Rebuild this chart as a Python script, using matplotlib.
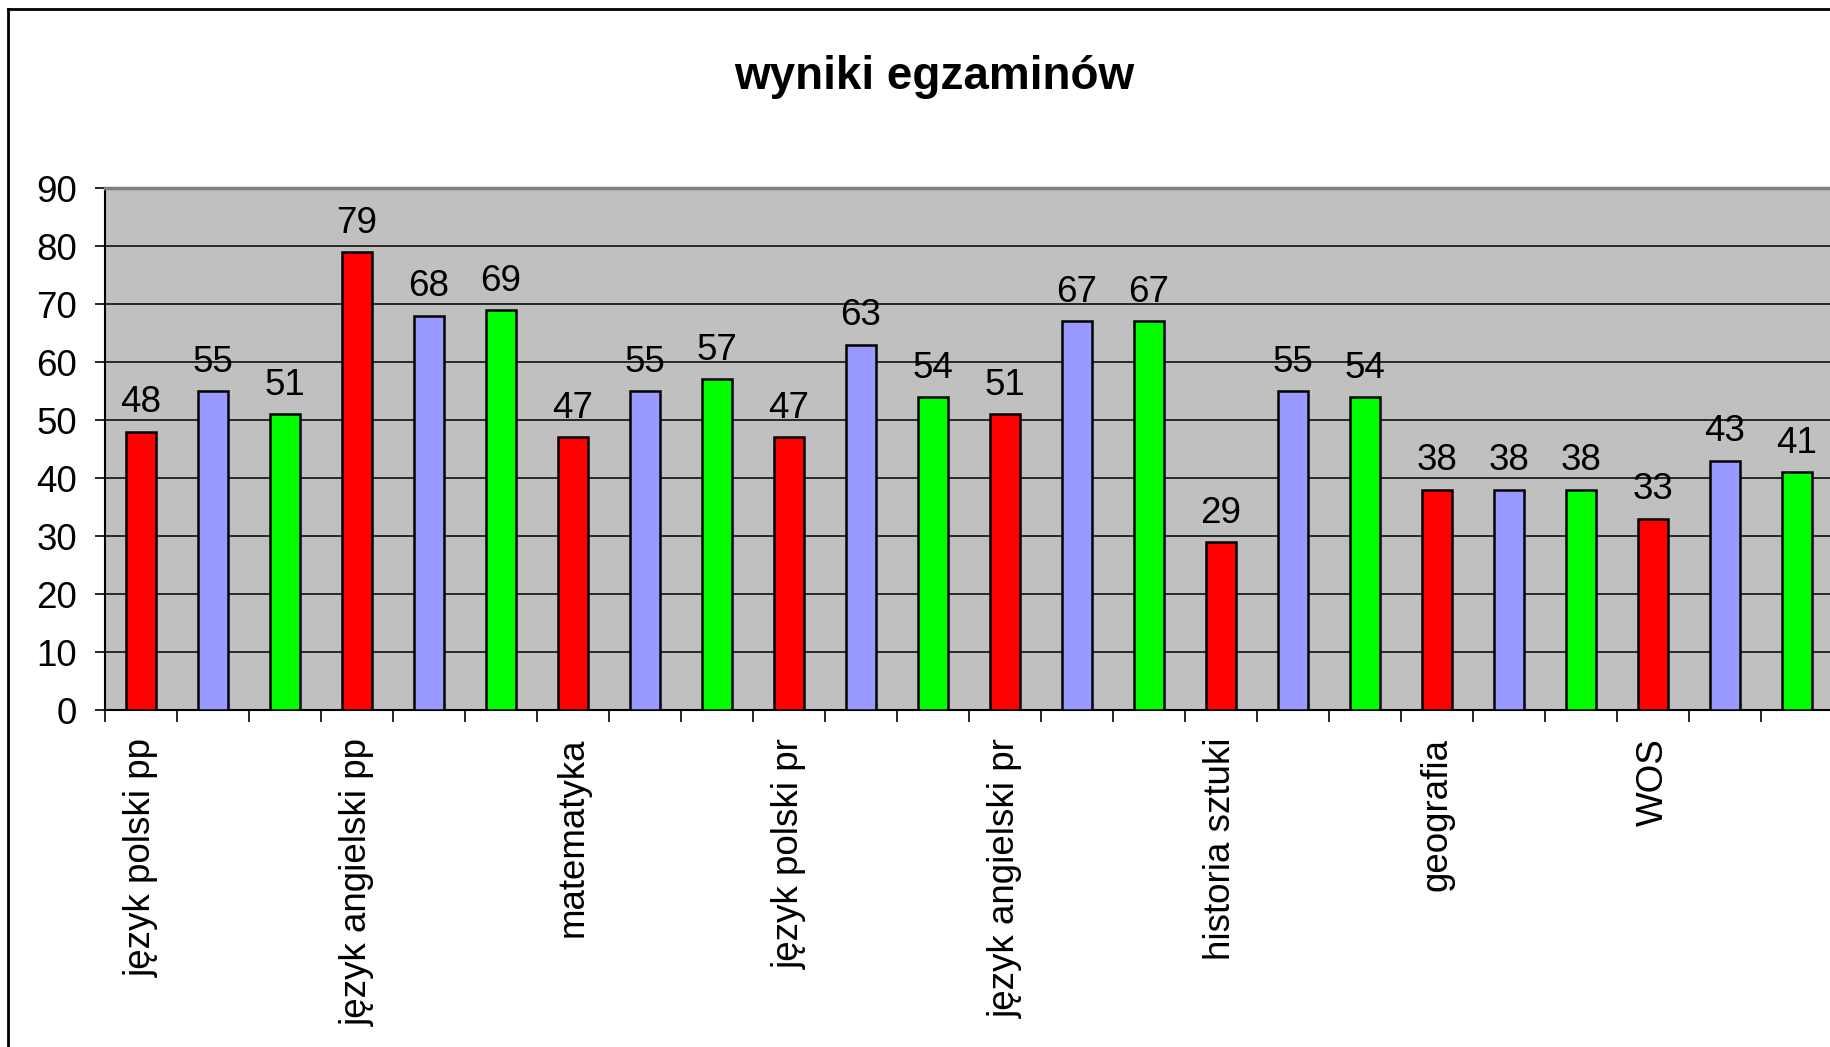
import matplotlib
matplotlib.use('Agg')
import matplotlib.pyplot as plt
from matplotlib.lines import Line2D

# przedmioty (etykieta co trzeci słupek)
subjects = ['język polski pp', 'język angielski pp', 'matematyka', 'język polski pr',
            'język angielski pr', 'historia sztuki', 'geografia', 'WOS']
red_vals = [48, 79, 47, 47, 51, 29, 38, 33]
blue_vals = [55, 68, 55, 63, 67, 55, 38, 43]
green_vals = [51, 69, 57, 54, 67, 54, 38, 41]
yticks = [0, 10, 20, 30, 40, 50, 60, 70, 80, 90]

plt.rcParams['font.family'] = ['Liberation Sans', 'DejaVu Sans']

values = []
colors = []
labels = []
for i in range(len(subjects)):
    values += [red_vals[i], blue_vals[i], green_vals[i]]
    colors += ['#FF0000', '#9999FF', '#00FF00']
    labels += [subjects[i], '', '']
x = list(range(len(values)))

fig = plt.figure(figsize=(18.31, 10.47), dpi=100)
ax = fig.add_axes([105 / 1831, 1 - 710 / 1047, 1728 / 1831, 522 / 1047])
ax.set_facecolor('#C0C0C0')

bars = ax.bar(x, values, width=0.43, color=colors, edgecolor='black', linewidth=1.8, zorder=3)
for xi, v in zip(x, values):
    ax.annotate(str(v), (xi, v), xytext=(0, 8), textcoords='offset points',
                ha='center', va='bottom', fontsize=26.5, color='black')

ax.set_xlim(-0.5, len(values) - 0.5)
ax.set_ylim(0, 90)
ax.set_yticks(yticks)
ax.set_yticklabels([str(t) for t in yticks], fontsize=26.5)
ax.yaxis.grid(True, color='black', linewidth=1.1, zorder=1)
ax.set_axisbelow(True)

ax.set_xticks([i - 0.5 for i in x], minor=False)
ax.set_xticklabels([])
ax.set_xticks(x, minor=True)
ax.set_xticklabels(labels, minor=True, rotation=90, fontsize=26.5, va='top', ha='center')
ax.tick_params(axis='x', which='major', length=8.5, width=1.2, direction='out')
ax.tick_params(axis='x', which='minor', length=0, pad=20)
ax.tick_params(axis='y', length=7, width=1.2, pad=13)

ax.spines['right'].set_visible(False)
ax.spines['top'].set_color('#808080')
ax.spines['top'].set_linewidth(2.5)
ax.spines['left'].set_linewidth(1.5)
ax.spines['bottom'].set_linewidth(1.5)

fig.text(934 / 1831, 1 - 77 / 1047, 'wyniki egzaminów', fontsize=33, fontweight='bold',
         ha='center', va='center')

# ramka wykresu
fig.add_artist(Line2D([8 / 1831, 8 / 1831], [0, 1 - 9 / 1047], color='black', linewidth=2,
                      transform=fig.transFigure))
fig.add_artist(Line2D([8 / 1831, 1], [1 - 9 / 1047, 1 - 9 / 1047], color='black', linewidth=2,
                      transform=fig.transFigure))

fig.savefig('out.png', dpi=100)
